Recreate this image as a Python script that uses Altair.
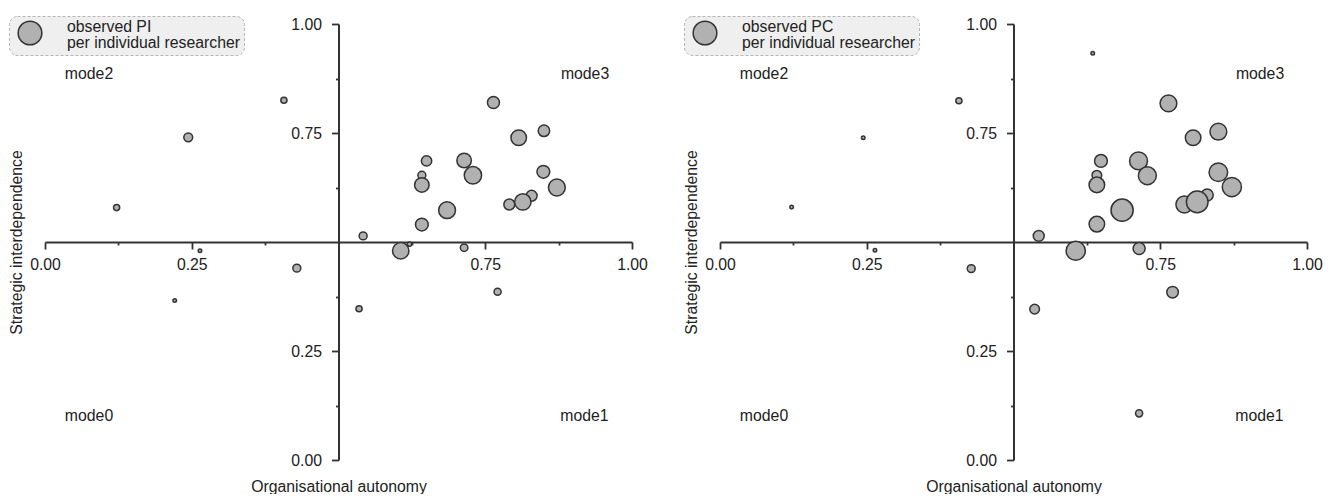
import math
import altair as alt
import pandas as pd

# ---------------- data ----------------
# Panel 1: observed PI per individual researcher
pi_x = [0.122, 0.244, 0.407, 0.264, 0.429, 0.221, 0.535, 0.771,
        0.764, 0.807, 0.850, 0.650, 0.714, 0.729, 0.642, 0.642,
        0.849, 0.872, 0.829, 0.791, 0.814, 0.685, 0.642, 0.542,
        0.621, 0.606, 0.714]
pi_y = [0.579, 0.740, 0.825, 0.480, 0.440, 0.366, 0.347, 0.386,
        0.820, 0.739, 0.755, 0.686, 0.687, 0.653, 0.653, 0.631,
        0.661, 0.625, 0.606, 0.586, 0.592, 0.573, 0.540, 0.514,
        0.495, 0.480, 0.487]
pi_w = [12, 25, 12, 4, 20, 4, 12, 16,
        46, 77, 42, 34, 67, 96, 20, 67,
        52, 90, 38, 38, 85, 90, 52, 20,
        6, 85, 18]

# Panel 2: observed PC per individual researcher
pc_x = [0.122, 0.244, 0.407, 0.264, 0.428, 0.635, 0.536, 0.771, 0.714,
        0.764, 0.806, 0.849, 0.649, 0.713, 0.728, 0.642, 0.642,
        0.849, 0.872, 0.830, 0.791, 0.813, 0.685, 0.642, 0.543,
        0.606, 0.714]
pc_y = [0.580, 0.739, 0.824, 0.481, 0.439, 0.933, 0.346, 0.385, 0.107,
        0.818, 0.739, 0.753, 0.686, 0.686, 0.652, 0.653, 0.631,
        0.660, 0.626, 0.608, 0.586, 0.592, 0.573, 0.541, 0.514,
        0.480, 0.485]
pc_w = [4, 4, 12, 4, 20, 4, 30, 42, 16,
        90, 77, 90, 52, 102, 102, 30, 77,
        110, 117, 46, 90, 149, 156, 77, 38,
        117, 46]

mode_text = ["mode2", "mode3", "mode0", "mode1"]
mode_x = [0.075, 0.920, 0.075, 0.919]
mode_y = [0.885, 0.885, 0.102, 0.102]

tick_vals = [0.0, 0.125, 0.25, 0.375, 0.625, 0.75, 0.875, 1.0]

legend_pi = ["observed PI", "per individual researcher\u00a0\u00a0\u00a0\u00a0"]
legend_pc = ["observed PC", "per individual researcher\u00a0\u00a0\u00a0\u00a0"]

# ---------------- styling ----------------
FONT = "Liberation Sans"
FS = 15.8
W, H = 587, 436
INK = "#222222"

modes = pd.DataFrame({"x": mode_x, "y": mode_y, "label": mode_text})


def make_axis(kind):
    common = dict(
        values=tick_vals,
        format=".2f",
        labelExpr="(datum.value*4)%1==0 ? datum.label : ''",
        tickSize={"condition": {"test": "(datum.value*4)%1==0", "value": 7}, "value": 3},
        labelFlush=False,
        labelOverlap=False,
        zindex=0,
        grid=False,
    )
    if kind == "x":
        return alt.Axis(orient="bottom", offset=-H / 2, labelPadding=8,
                        title="Organisational autonomy",
                        titleX=W / 2, titleY=H / 2 + 31,
                        titleBaseline="alphabetic", titleAlign="center",
                        **common)
    return alt.Axis(orient="left", offset=-W / 2, labelPadding=10,
                    title="Strategic interdependence",
                    titleX=-(W / 2) - 24, titleY=H / 2, titleAngle=270,
                    titleBaseline="alphabetic", titleAlign="center",
                    **common)


def make_panel(xs, ys, ws, series, legend_title):
    df = pd.DataFrame({"x": xs, "y": ys, "w": ws, "series": series})
    X = alt.X("x:Q", scale=alt.Scale(domain=[0, 1], nice=False, zero=False), axis=make_axis("x"))
    Y = alt.Y("y:Q", scale=alt.Scale(domain=[0, 1], nice=False, zero=False), axis=make_axis("y"))
    pts = alt.Chart(df).mark_circle(opacity=1, stroke="#333333", strokeWidth=1.5).encode(
        x=X,
        y=Y,
        size=alt.Size("w:Q", scale=alt.Scale(domain=[0, 160], range=[0, 160 * math.pi]), legend=None),
        fill=alt.Fill("series:N", scale=alt.Scale(range=["#b1b1b1"]),
                      legend=alt.Legend(title=legend_title, titleOrient="right",
                                        titleAnchor="start", titleBaseline="top",
                                        titlePadding=22, titleLineHeight=16,
                                        titleFont=FONT, titleFontSize=FS,
                                        titleFontWeight="normal", titleColor=INK,
                                        titleLimit=400,
                                        orient="none", legendX=-36, legendY=-8,
                                        symbolType="circle", symbolSize=560,
                                        symbolStrokeColor="#333333", symbolStrokeWidth=1.5,
                                        symbolOffset=4, labelOffset=0,
                                        labelExpr="''", labelFontSize=1,
                                        padding=4,
                                        fillColor="#efefef", strokeColor="#b5b5b5",
                                        cornerRadius=8)),
    )
    txt = alt.Chart(modes).mark_text(font=FONT, fontSize=FS, color=INK,
                                     align="center", baseline="middle").encode(
        x=X, y=Y, text="label:N")
    return alt.layer(pts, txt).properties(width=W, height=H)


chart = alt.hconcat(
    make_panel(pi_x, pi_y, pi_w, "PI", legend_pi),
    make_panel(pc_x, pc_y, pc_w, "PC", legend_pc),
    spacing=35,
).resolve_scale(fill="independent").resolve_legend(fill="independent").properties(
    padding={"left": 0, "top": 7, "right": 0, "bottom": 0}
).configure_view(stroke=None).configure_axis(
    domainColor="#333333", domainWidth=2, tickColor="#333333", tickWidth=1.8,
    labelFont=FONT, labelFontSize=FS, labelColor=INK,
    titleFont=FONT, titleFontSize=FS, titleColor=INK, titleFontWeight="normal",
).configure_legend(strokeDash=[3, 2], strokeWidth=1)

chart.save("out.html", embed_options={"renderer": "svg", "actions": False})
